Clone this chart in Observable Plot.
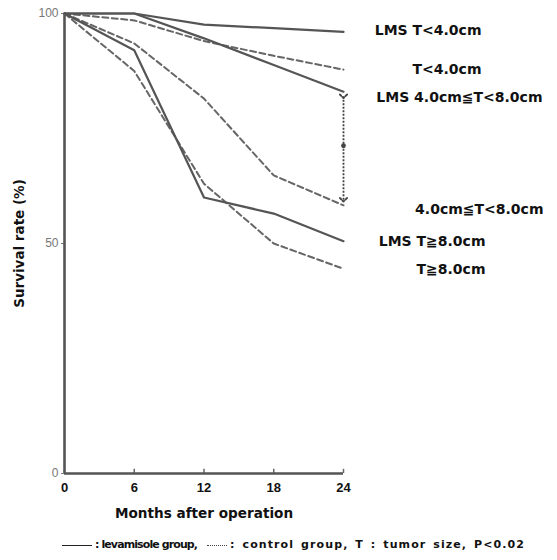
<!DOCTYPE html>
<html>
<head>
<meta charset="utf-8">
<script src="https://cdn.jsdelivr.net/npm/d3@7"></script>
<script src="https://cdn.jsdelivr.net/npm/@observablehq/plot@0.6"></script>
<style>
  body { margin: 0; background: #fff; font-family: "Liberation Sans", Arial, sans-serif; }
  #caption { width: 557px; height: 30px; box-sizing: border-box; padding-left: 62px; padding-top: 8px;
    font-family: "DejaVu Sans", sans-serif; font-size: 11px; font-weight: bold; color: #111; white-space: nowrap; }
  .sw { display: inline-block; vertical-align: middle; }
  .solid { border-top: 1.5px solid #222; width: 30px; margin-right: 3px; }
  .dotted { border-top: 1.5px dotted #444; width: 20px; margin-left: 10px; margin-right: 3px; }
  .t1 { letter-spacing: -0.9px; }
  .t2 { letter-spacing: 1.1px; word-spacing: 2px; }
</style>
</head>
<body>
<div id="chart"></div>
<div id="caption"><span class="sw solid"></span><span class="t1">: levamisole group,</span><span class="sw dotted"></span><span class="t2">: control group, T : tumor size, P&lt;0.02</span></div>
<script>
// ---- data ----
const months = [0, 6, 12, 18, 24];
const yTicks = [0, 50, 100];
const lmsSmall   = [100, 100, 97.6, 96.8, 96.0];
const ctrlSmall  = [100, 98.5, 94.0, 90.8, 87.8];
const lmsMedium  = [100, 100, 94.6, 88.8, 83.0];
const ctrlMedium = [100, 93.5, 81.5, 64.8, 58.3];
const lmsLarge   = [100, 92.0, 60.0, 56.5, 50.5];
const ctrlLarge  = [100, 87.5, 63.0, 50.0, 44.5];
const seriesNames  = ["LMS T<4.0cm", "T<4.0cm", "LMS 4.0cm≦T<8.0cm", "4.0cm≦T<8.0cm", "LMS T≧8.0cm", "T≧8.0cm"];
const seriesGroups = ["levamisole", "control", "levamisole", "control", "levamisole", "control"];
const seriesValues = [lmsSmall, ctrlSmall, lmsMedium, ctrlMedium, lmsLarge, ctrlLarge];
const gapTop = 82, gapBottom = 59.5; // P<0.02 comparison arrow at 24 months

const rows = seriesNames.flatMap((name, s) =>
  seriesValues[s].map((v, i) => ({month: months[i], rate: v, name, group: seriesGroups[s]})));
const ends = seriesNames.map((name, s) => ({name, month: 24, rate: seriesValues[s][4]}));

// label offsets (style, not data)
const labelStyle = {
  "LMS T<4.0cm": {dx: 138, dy: -1},
  "T<4.0cm": {dx: 138, dy: 0},
  "LMS 4.0cm≦T<8.0cm": {dx: 199, dy: 6},
  "4.0cm≦T<8.0cm": {dx: 200, dy: 4},
  "LMS T≧8.0cm": {dx: 142, dy: 0},
  "T≧8.0cm": {dx: 142, dy: 1}
};

const font = "'Liberation Sans', Arial, sans-serif";
const wide = "'DejaVu Sans', sans-serif";
const lineColor = "#555";

const chart = Plot.plot({
  width: 557, height: 530,
  marginTop: 13, marginBottom: 57, marginLeft: 64, marginRight: 214,
  style: {fontFamily: font, background: "#fff", color: "#111", overflow: "visible"},
  x: {domain: [0, 24]},
  y: {domain: [0, 100]},
  marks: [
    Plot.axisX({ticks: months, tickSize: 0, tickPadding: 9, fontSize: 13, fontWeight: "bold", fill: "#111",
      label: "Months after operation", labelAnchor: "center", labelArrow: "none", labelOffset: 44}),
    Plot.axisY({ticks: yTicks, tickSize: 3, tickPadding: 3, fontSize: 12, fill: "#777", stroke: "#777",
      label: "Survival rate (%)", labelAnchor: "center", labelArrow: "none", labelOffset: 50}),
    Plot.ruleX(months.slice(1), {y1: 0, y2: 0.9, stroke: "#666", strokeWidth: 1.5}),
    Plot.line(rows.filter(d => d.group === "control"), {x: "month", y: "rate", z: "name",
      stroke: "#666", strokeWidth: 2, strokeDasharray: "6,3.5"}),
    Plot.line(rows.filter(d => d.group === "levamisole"), {x: "month", y: "rate", z: "name",
      stroke: lineColor, strokeWidth: 2.2}),
    Plot.link([{x: 24, top: gapTop, bottom: gapBottom}], {x1: "x", x2: "x", y1: "top", y2: "bottom",
      stroke: "#444", strokeWidth: 1.8, strokeDasharray: "2,1.5", markerStart: "arrow", markerEnd: "arrow"}),
    Plot.dot([{x: 24, y: (gapTop + gapBottom) / 2 + 0.5}], {x: "x", y: "y", r: 2.4, fill: "#444"}),
    Plot.ruleX([0], {stroke: lineColor, strokeWidth: 2.6}),
    Plot.ruleY([0], {stroke: lineColor, strokeWidth: 2.6}),
    ...ends.map(e => Plot.text([e], {x: "month", y: "rate", text: "name",
      dx: labelStyle[e.name].dx, dy: labelStyle[e.name].dy, textAnchor: "end",
      fontFamily: wide, fontSize: 14, fontWeight: "bold", fill: "#111"}))
  ]
});
document.getElementById("chart").appendChild(chart);
// bold axis titles
chart.querySelectorAll("[aria-label='x-axis label'] text, [aria-label='y-axis label'] text").forEach(t => {
  t.setAttribute("font-weight", "bold"); t.setAttribute("fill", "#111"); t.setAttribute("font-family", wide);
});
chart.querySelectorAll("[aria-label='x-axis label'] text").forEach(t => t.setAttribute("font-size", 13.6));
chart.querySelectorAll("[aria-label='y-axis label'] text").forEach(t => t.setAttribute("font-size", 13.5));
</script>
</body>
</html>
